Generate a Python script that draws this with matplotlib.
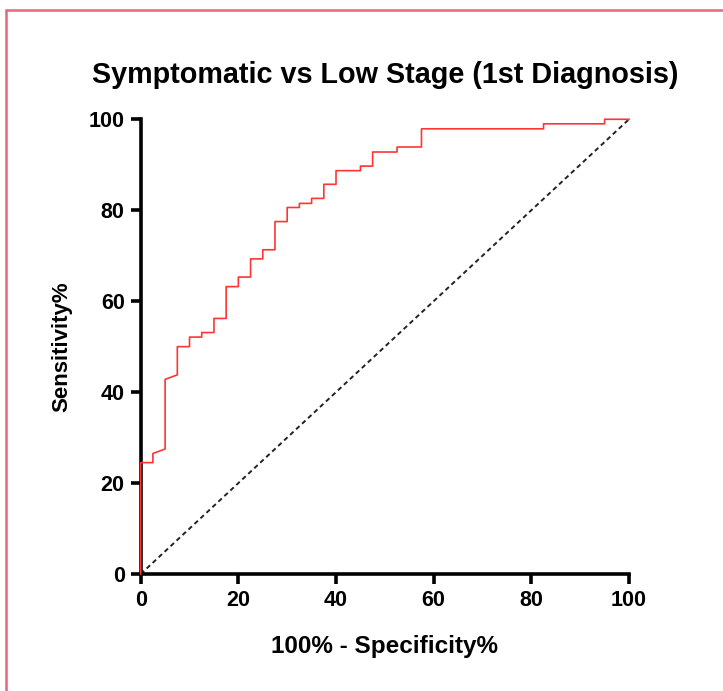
import matplotlib.pyplot as plt
from matplotlib.patches import Rectangle

# ROC curve points (100% - specificity, sensitivity)
fpr = [0, 0, 2.5, 2.5, 5, 5, 7.5, 7.5, 10, 10, 12.5, 12.5, 15, 15, 17.5, 17.5,
       20, 20, 22.5, 22.5, 25, 25, 27.5, 27.5, 30, 30, 32.5, 32.5, 35, 35,
       37.5, 37.5, 40, 40, 45, 45, 47.5, 47.5, 52.5, 52.5, 57.5, 57.5,
       82.5, 82.5, 95, 95, 100]
tpr = [0, 24.5, 24.5, 26.5, 27.5, 42.8, 43.8, 50.0, 50.0, 52.1, 52.1, 53.1,
       53.1, 56.2, 56.2, 63.2, 63.2, 65.3, 65.3, 69.3, 69.3, 71.3, 71.3, 77.5,
       77.5, 80.6, 80.6, 81.5, 81.5, 82.6, 82.6, 85.7, 85.7, 88.7, 88.7, 89.7,
       89.7, 92.8, 92.8, 93.9, 93.9, 97.9, 97.9, 99.0, 99.0, 100, 100]
ref_line = [0, 100]
ticks = [0, 20, 40, 60, 80, 100]

plt.rcParams['font.family'] = ['Liberation Sans', 'DejaVu Sans']
plt.rcParams['font.weight'] = 'bold'

fig = plt.figure(figsize=(7.23, 6.91), dpi=100)
fig.patches.append(Rectangle((6 / 723, -0.05), 1.1, (691 - 10) / 691 + 0.05,
                             transform=fig.transFigure, fill=False,
                             edgecolor='#e8657e', linewidth=1.8))

ax = fig.add_axes([0.1946, 0.1693, 0.6754, 0.6581])
ax.plot(ref_line, ref_line, color='#222222', linestyle=(0, (2.4, 1.8)), linewidth=1.4)
ax.plot(fpr, tpr, color='#ff3535', linewidth=1.2, clip_on=False, zorder=3)

ax.set_xlim(0, 100)
ax.set_ylim(0, 100)
ax.set_xticks(ticks)
ax.set_yticks(ticks)
for s in ['top', 'right']:
    ax.spines[s].set_visible(False)
for s in ['left', 'bottom']:
    ax.spines[s].set_linewidth(2.6)
ax.tick_params(width=2.6, length=7.5, labelsize=15.5, pad=4)

ax.set_title('Symptomatic vs Low Stage (1st Diagnosis)', fontsize=20.7,
             fontweight='bold', pad=26)
ax.set_xlabel('100% - Specificity%', fontsize=17.5, fontweight='bold', labelpad=17)
ax.set_ylabel('Sensitivity%', fontsize=16, fontweight='bold', labelpad=12)

fig.savefig('out.png', dpi=100)
